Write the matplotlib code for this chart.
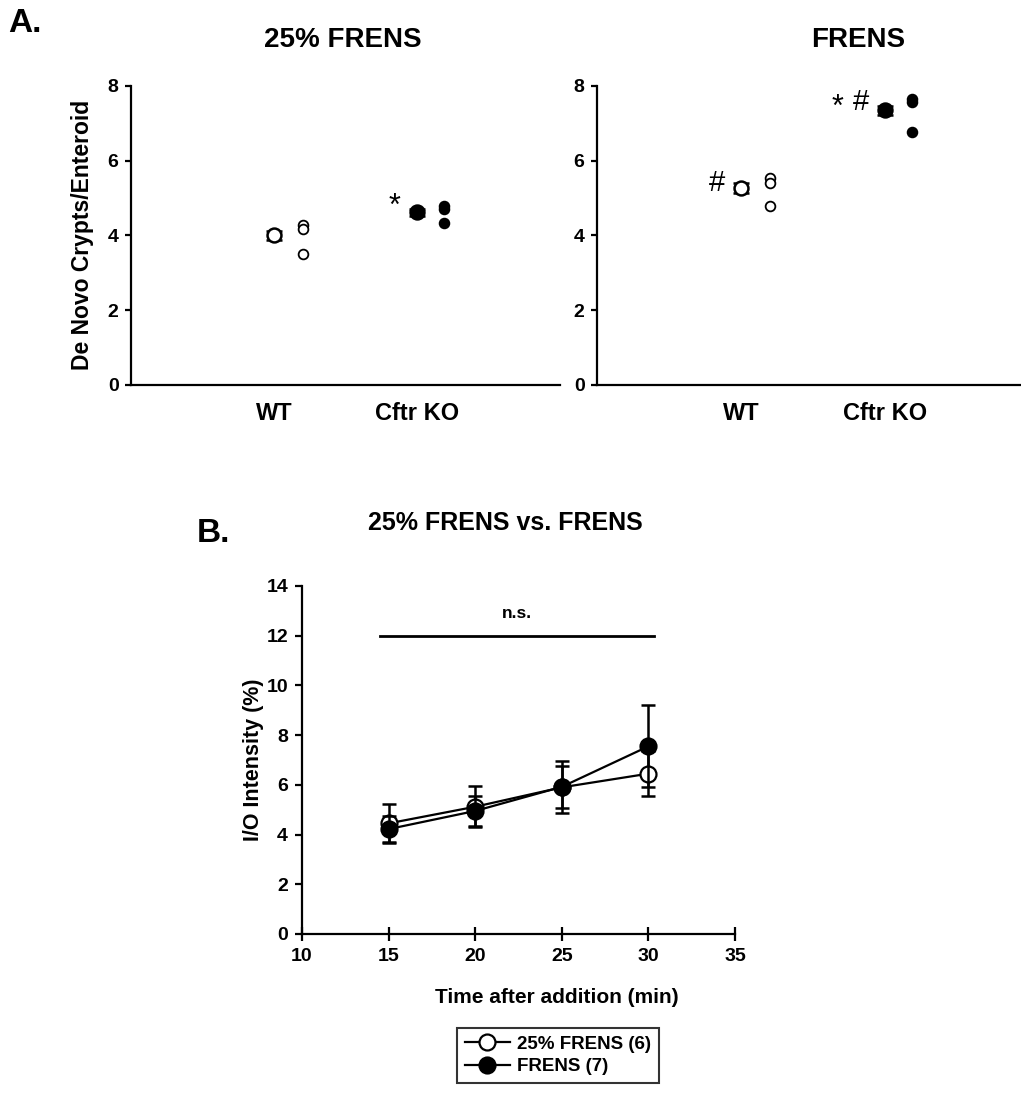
import numpy as np
import matplotlib
matplotlib.use("Agg")
import matplotlib.pyplot as plt

plt.rcParams['font.family'] = ['Liberation Sans', 'DejaVu Sans']
plt.rcParams['font.weight'] = 'bold'
plt.rcParams['axes.linewidth'] = 1.6

# panel A data
groups = ["WT", "Cftr KO"]
pos = [1, 2]
quarter_mean = [4.00, 4.62]
quarter_err = [0.12, 0.10]
quarter_wt_pts = [4.28, 4.17, 3.50]
quarter_ko_pts = [4.80, 4.70, 4.33]
full_mean = [5.27, 7.35]
full_err = [0.13, 0.12]
full_wt_pts = [5.55, 5.40, 4.79]
full_ko_pts = [7.66, 7.56, 6.76]

# panel B data
times = [15, 20, 25, 30]
open_y = [4.45, 5.12, 5.90, 6.45]
open_err = [0.80, 0.83, 0.85, 0.90]
filled_y = [4.22, 4.95, 5.92, 7.55]
filled_err = [0.52, 0.62, 1.05, 1.65]

W, H = 1021, 1095
fig = plt.figure(figsize=(W / 100, H / 100), dpi=100)


def box(l, t, r, b):
    return [l / W, 1 - b / H, (r - l) / W, (b - t) / H]


def panel_a(ax, means, errs, wt_pts, ko_pts):
    ax.set_xlim(0, 3)
    ax.set_ylim(0, 8)
    ax.spines['top'].set_visible(False)
    ax.spines['right'].set_visible(False)
    ax.set_yticks([0, 2, 4, 6, 8])
    ax.tick_params(axis='y', length=4, width=1.6, pad=5, labelsize=14)
    ax.set_xticks(pos)
    ax.set_xticklabels(groups, fontsize=17, fontweight='bold')
    ax.tick_params(axis='x', length=0, pad=12)
    face = ['white', 'black']
    for i in range(2):
        ax.errorbar(pos[i], means[i], yerr=errs[i], fmt='o', ms=10, mfc=face[i], mec='black',
                    mew=1.8, ecolor='black', elinewidth=2, capsize=6, capthick=2.5, zorder=3)
    ax.plot([pos[0] + 0.2] * len(wt_pts), wt_pts, 'o', ms=7, mfc='white', mec='black', mew=1.3)
    ax.plot([pos[1] + 0.19] * len(ko_pts), ko_pts, 'o', ms=7, mfc='black', mec='black', mew=1.3)


ax1 = fig.add_axes(box(131, 86, 560, 385))
panel_a(ax1, quarter_mean, quarter_err, quarter_wt_pts, quarter_ko_pts)
ax1.text(1.84, 4.55, "*", fontsize=22, fontweight='normal', ha='center', va='baseline')

ax2 = fig.add_axes(box(597, 86, 1029, 385))
panel_a(ax2, full_mean, full_err, full_wt_pts, full_ko_pts)
ax2.text(0.83, 5.2, "#", fontsize=21, fontweight='normal', ha='center', va='baseline')
ax2.text(1.67, 7.2, "*", fontsize=22, fontweight='normal', ha='center', va='baseline')
ax2.text(1.83, 7.35, "#", fontsize=21, fontweight='normal', ha='center', va='baseline')

fig.text(82 / W, 1 - 235 / H, "De Novo Crypts/Enteroid", rotation=90, fontsize=16.5,
         ha='center', va='center')
fig.text(343 / W, 1 - 47 / H, "25% FRENS", fontsize=20, ha='center', va='baseline')
fig.text(858 / W, 1 - 47 / H, "FRENS", fontsize=20, ha='center', va='baseline')
fig.text(8 / W, 1 - 32 / H, "A.", fontsize=24, ha='left', va='baseline')

# panel B
ax3 = fig.add_axes(box(302, 586, 735, 934))
ax3.set_xlim(10, 35)
ax3.set_ylim(0, 14)
ax3.spines['top'].set_visible(False)
ax3.spines['right'].set_visible(False)
ax3.set_xticks(range(10, 36, 5))
ax3.set_yticks(range(0, 15, 2))
ax3.tick_params(axis='both', length=5, width=1.6, labelsize=14)
ax3.tick_params(axis='x', direction='inout', length=10, pad=5)
ax3.tick_params(axis='y', pad=5)

ax3.errorbar(times, open_y, yerr=open_err, fmt='none', ecolor='black', elinewidth=1.8,
             capsize=5, capthick=1.8, zorder=2)
l1, = ax3.plot(times, open_y, '-o', color='black', lw=1.6, ms=11.5, mfc='white', mec='black',
               mew=1.6, zorder=3, label="25% FRENS (6)")
ax3.errorbar(times, filled_y, yerr=filled_err, fmt='none', ecolor='black', elinewidth=1.8,
             capsize=5, capthick=1.8, zorder=4)
l2, = ax3.plot(times, filled_y, '-o', color='black', lw=1.6, ms=11.5, mfc='black', mec='black',
               mew=1.6, zorder=5, label="FRENS (7)")

ax3.plot([14.5, 30.3], [12, 12], color='black', lw=2)
ax3.text(22.4, 12.7, "n.s.", fontsize=12.5, ha='center', va='baseline')

fig.text(253 / W, 1 - 760 / H, "I/O Intensity (%)", rotation=90, fontsize=15.5,
         ha='center', va='center')
fig.text(557 / W, 1 - 1003 / H, "Time after addition (min)", fontsize=15,
         ha='center', va='baseline')
fig.text(505 / W, 1 - 530 / H, "25% FRENS vs. FRENS", fontsize=18, ha='center', va='baseline')
fig.text(197 / W, 1 - 542 / H, "B.", fontsize=24, ha='left', va='baseline')

leg = fig.legend(handles=[l1, l2], loc='upper left', bbox_to_anchor=(457 / W, 1 - 1028 / H),
                 fontsize=13.5, frameon=True, fancybox=False, edgecolor='black',
                 handlelength=2.4, handletextpad=0.4, borderpad=0.4, labelspacing=0.3,
                 borderaxespad=0)
leg.get_frame().set_linewidth(1.5)

fig.savefig("out.png", dpi=100)
